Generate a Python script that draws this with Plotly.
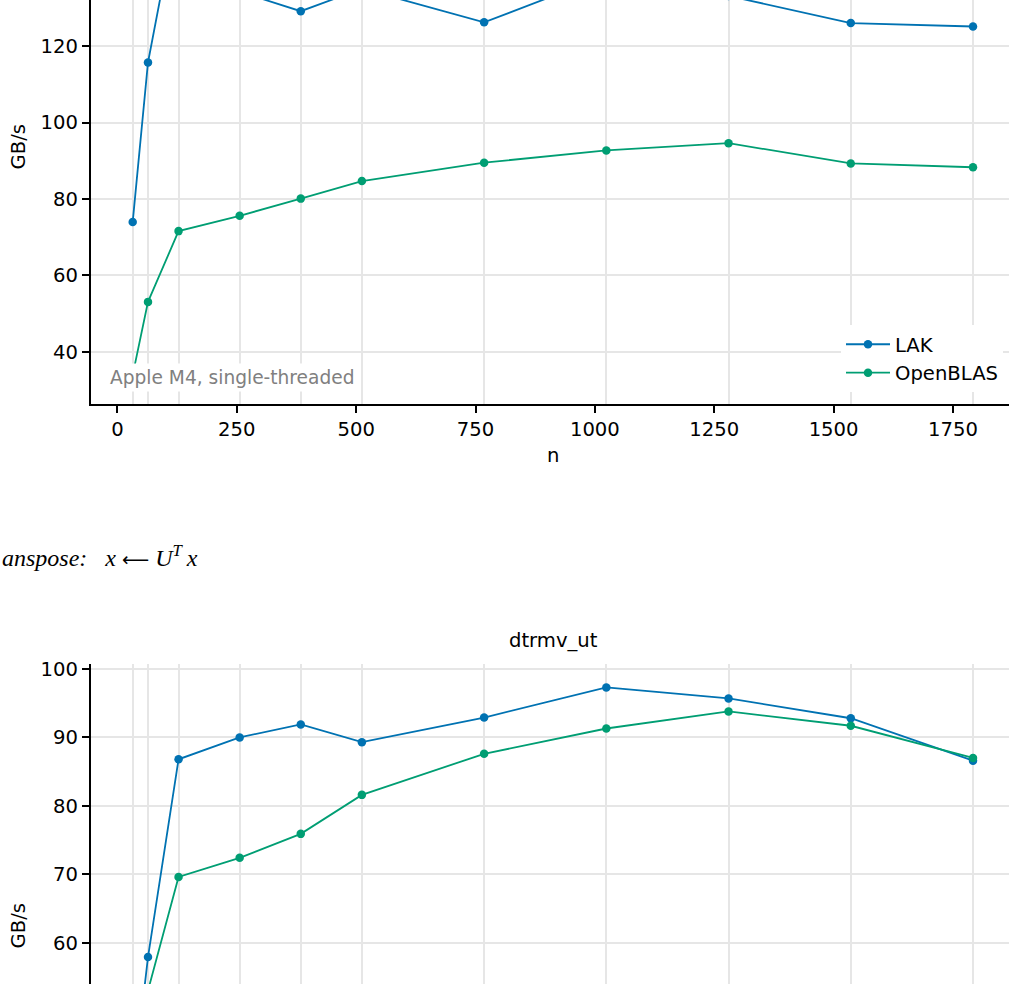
import plotly.graph_objects as go

# ---- data ----
n = [32, 64, 128, 256, 384, 512, 768, 1024, 1280, 1536, 1792]

# top panel (partially visible; upper part is cropped)
top_lak = [74.0, 115.7, 157.5, 134.2, 129.1, 135.0, 126.2, 138.4, 133.1, 126.0, 125.1]
top_openblas = [34.0, 53.1, 71.6, 75.6, 80.1, 84.7, 89.5, 92.7, 94.6, 89.3, 88.3]

# bottom panel: dtrmv_ut (lower part is cropped)
bot_lak = [38.5, 57.9, 86.8, 90.0, 91.9, 89.3, 92.9, 97.3, 95.7, 92.8, 86.6]
bot_openblas = [30.0, 53.0, 69.6, 72.4, 75.9, 81.6, 87.6, 91.3, 93.8, 91.7, 87.0]

x_ticks = [0, 250, 500, 750, 1000, 1250, 1500, 1750]
top_y_ticks = [40, 60, 80, 100, 120]
bot_y_ticks = [60, 70, 80, 90, 100]

series_names = ["LAK", "OpenBLAS"]
colors = ["#0072B2", "#009E73"]

W, H = 1009, 984
FONT = "DejaVu Sans"
FS = 19.6
GRID = "#e6e6e6"


def px(xp):
    return xp / W


def py(yp):
    return (H - yp) / H


fig = go.Figure()
for name, vals, col in zip(series_names, [top_lak, top_openblas], colors):
    fig.add_trace(go.Scatter(x=n, y=vals, name=name, mode="lines+markers",
                             line=dict(color=col, width=1.8),
                             marker=dict(color=col, size=8.5),
                             xaxis="x", yaxis="y", showlegend=True))
for name, vals, col in zip(series_names, [bot_lak, bot_openblas], colors):
    fig.add_trace(go.Scatter(x=n, y=vals, name=name, mode="lines+markers",
                             line=dict(color=col, width=1.8),
                             marker=dict(color=col, size=8.5),
                             xaxis="x2", yaxis="y2", showlegend=False))

xdomain = [px(90.7), 1.0]
xrange_ = [-56.0, 1867.4]

common_x = dict(
    domain=xdomain, range=xrange_, tickmode="array", tickvals=x_ticks,
    ticks="outside", ticklen=7, tickwidth=1.5, tickcolor="black",
    showline=True, linecolor="black", linewidth=1.5, showgrid=False,
    zeroline=False, tickfont=dict(family=FONT, size=FS, color="black"),
    minor=dict(tickmode="array", tickvals=n, showgrid=True, gridcolor=GRID,
               gridwidth=1.6, ticks=""),
    automargin=False,
)
common_y = dict(
    ticks="outside", ticklen=7, tickwidth=1.5, tickcolor="black",
    showline=True, linecolor="black", linewidth=1.5, showgrid=True,
    gridcolor=GRID, gridwidth=1.6, zeroline=False,
    tickfont=dict(family=FONT, size=FS, color="black"), automargin=False,
    tickmode="array",
)

x2 = dict(common_x)
x2.update(showticklabels=False, ticks="")

fig.update_layout(
    width=W, height=H, margin=dict(l=0, r=0, t=0, b=0),
    template="none", paper_bgcolor="white", plot_bgcolor="white",
    font=dict(family=FONT, size=FS, color="black"),
    xaxis=dict(anchor="y", **common_x),
    yaxis=dict(anchor="x", domain=[py(404), 1.0], range=[26.4, 132.03],
               tickvals=top_y_ticks, **common_y),
    xaxis2=dict(anchor="y2", **x2),
    yaxis2=dict(anchor="x2", domain=[0.0, py(663.7)], range=[53.96, 100.77],
                tickvals=bot_y_ticks, **common_y),
    legend=dict(x=px(1003), y=py(392), xanchor="right", yanchor="bottom",
                bgcolor="white", borderwidth=0, itemwidth=44,
                font=dict(family=FONT, size=FS, color="black")),
)

math = ("<i>anspose:</i>\u2002 <i>x</i> "
        "<span style='font-family:DejaVu Sans;font-size:19px'>\u27f5</span> "
        "<i>U</i><sup><i>T</i></sup>\u2009<i>x</i>")

annotations = [
    dict(text="Apple M4, single-threaded", x=px(106), y=py(377),
         xanchor="left", yanchor="middle", font=dict(family=FONT, size=18.6, color="#808080"),
         bgcolor="white", borderpad=3),
    dict(text="GB/s", x=px(17.5), y=py(147), textangle=-90,
         xanchor="center", yanchor="middle", font=dict(family=FONT, size=FS, color="black")),
    dict(text="n", x=px(553), y=py(456), xanchor="center", yanchor="middle",
         font=dict(family=FONT, size=FS, color="black")),
    dict(text=math, x=0.0, y=py(556), xanchor="left", yanchor="middle",
         font=dict(family="Liberation Serif", size=24, color="black")),
    dict(text="dtrmv_ut", x=px(553), y=py(640), xanchor="center", yanchor="middle",
         font=dict(family=FONT, size=FS, color="black")),
    dict(text="GB/s", x=px(17.5), y=py(926), textangle=-90,
         xanchor="center", yanchor="middle", font=dict(family=FONT, size=FS, color="black")),
]
for a in annotations:
    a.update(xref="paper", yref="paper", showarrow=False)
fig.update_layout(annotations=annotations)

fig.write_html("out.html")
